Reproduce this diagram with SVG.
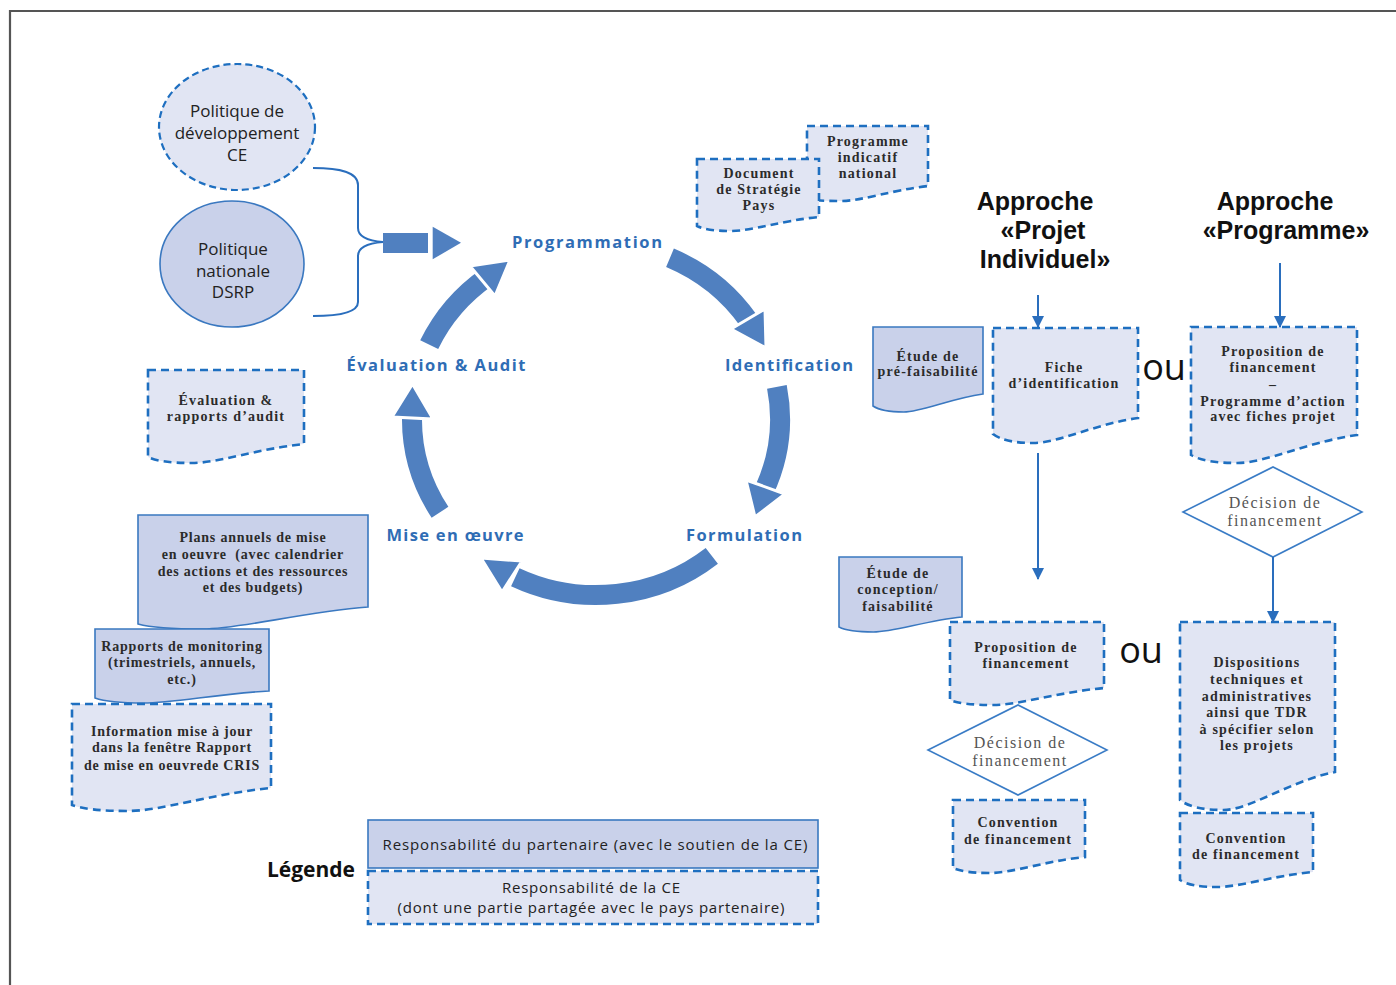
<svg xmlns="http://www.w3.org/2000/svg" width="1396" height="985" viewBox="0 0 1396 985">
<style>
.dash{fill:#e1e5f3;stroke:#1e6fc0;stroke-width:2.6;stroke-dasharray:8 5}
.solid{fill:#c9d1ea;stroke:#3a78c0;stroke-width:1.6}
.doc{font-family:"Liberation Serif",serif;font-weight:bold;font-size:14px;letter-spacing:1.2px;fill:#2b2b2b;text-anchor:middle}
.docl{font-family:"Liberation Serif",serif;font-weight:bold;font-size:14px;letter-spacing:0.8px;fill:#2b2b2b;text-anchor:middle}
.dia{fill:#fff;stroke:#3a7cc6;stroke-width:1.6}
.diat{font-family:"Liberation Serif",serif;font-size:16px;letter-spacing:1.5px;fill:#555;text-anchor:middle}
.cyc{font-family:"Open Sans",sans-serif;font-weight:bold;font-size:16.5px;fill:#2f6db5;text-anchor:middle}
.arc{fill:none;stroke:#5080c0;stroke-width:20}
.head{fill:#5080c0;stroke:#fff;stroke-width:3}
.sans{font-family:"Open Sans",sans-serif;fill:#222;text-anchor:middle}
.hd{font-family:"Liberation Sans",sans-serif;font-weight:bold;font-size:25px;fill:#111;text-anchor:middle}
.ou{font-family:"Open Sans",sans-serif;font-size:36px;fill:#111;text-anchor:middle}
.conn{stroke:#2a6ebd;stroke-width:2;fill:none}
</style>
<defs>
<marker id="ah" markerUnits="userSpaceOnUse" markerWidth="12" markerHeight="12" refX="11" refY="6" orient="auto">
<path d="M0,0 L12,6 L0,12 Z" fill="#2a6ebd"/>
</marker>
</defs>

<g id="frame" stroke="#555" stroke-width="2.2" fill="none">
<path d="M10,985 V11 H1396"/>
</g>

<g id="politique-ce">
<ellipse cx="237" cy="127" rx="78" ry="63" fill="#e1e5f3" stroke="#1e6fc0" stroke-width="2.2" stroke-dasharray="7 4"/>
<text class="sans" font-size="17" x="237" y="117">Politique de</text>
<text class="sans" font-size="17" x="237" y="139">développement</text>
<text class="sans" font-size="17" x="237" y="161">CE</text>
</g>

<g id="politique-nationale">
<ellipse cx="232" cy="264" rx="72" ry="63" fill="#c9d1ea" stroke="#3a78c0" stroke-width="1.6"/>
<text class="sans" font-size="17" x="233" y="255">Politique</text>
<text class="sans" font-size="17" x="233" y="277">nationale</text>
<text class="sans" font-size="17" x="233" y="298">DSRP</text>
</g>

<g id="cycle">
<path class="arc" d="M670,257.8 A184,176 0 0 1 748.5,320.6"/>
<polygon class="head" points="731,329 765,309 766,348"/>
<path class="arc" d="M776.9,386.9 A184,176 0 0 1 764.1,490.6"/>
<polygon class="head" points="746,480 785,494 755,517"/>
<path class="arc" d="M711.8,555.8 A184,176 0 0 1 515.3,577.2"/>
<polygon class="head" points="481,558 522,561 502,592"/>
<path class="arc" d="M440,512.3 A184,176 0 0 1 412.1,412.9"/>
<polygon class="head" points="392,417 433,419 412.5,384"/>
<path class="arc" d="M429.2,344.6 A184,176 0 0 1 487.8,276.6"/>
<polygon class="head" points="470,266 510,260 495,296"/>
<text class="cyc" x="587" y="248" textLength="150">Programmation</text>
<text class="cyc" x="789" y="371" textLength="128">Identification</text>
<text class="cyc" x="744" y="541" textLength="116">Formulation</text>
<text class="cyc" x="455" y="541" textLength="137">Mise en œuvre</text>
<text class="cyc" x="436" y="371" textLength="179">Évaluation &amp; Audit</text>
</g>

<g id="programme-indicatif">
<path class="dash" d="M807,126 H928 V186 C892,190 862,201 841,201 Q817,201 807,199 Z"/>
<text class="doc" x="868" y="146">Programme</text>
<text class="doc" x="868" y="162">indicatif</text>
<text class="doc" x="868" y="178">national</text>
</g>

<g id="document-strategie">
<path class="dash" d="M697,159 H819 V217 C782,220.5 752,231 731,231 Q707,231 697,226 Z"/>
<text class="doc" x="759" y="178">Document</text>
<text class="doc" x="759" y="194">de Stratégie</text>
<text class="doc" x="759" y="210">Pays</text>
</g>

<g id="evaluation-rapports">
<path class="dash" d="M148,370 H304 V444 C257,449 218,463 192,463 Q160,463 148,457 Z"/>
<text class="doc" x="226" y="405">Évaluation &amp;</text>
<text class="doc" x="226" y="421">rapports d’audit</text>
</g>

<g id="plans-annuels">
<path class="solid" d="M138,515 H368 V607 C299,612.5 241.5,629 202.4,629 Q156.4,629 138,624 Z"/>
<text class="docl" x="253" y="542">Plans annuels de mise</text>
<text class="docl" x="253" y="559" xml:space="preserve">en oeuvre  (avec calendrier</text>
<text class="docl" x="253" y="576">des actions et des ressources</text>
<text class="docl" x="253" y="592">et des budgets)</text>
</g>

<g id="rapports-monitoring">
<path class="solid" d="M95,629 H269 V691 C216.8,694 173.3,703 143.7,703 Q108.9,703 95,698 Z"/>
<text class="docl" x="182" y="651">Rapports de monitoring</text>
<text class="docl" x="182" y="667">(trimestriels, annuels,</text>
<text class="docl" x="182" y="684">etc.)</text>
</g>

<g id="information-cris">
<path class="dash" d="M72,704 H271 V788 C211.3,793.75 161.6,811 127.7,811 Q87.9,811 72,805 Z"/>
<text class="docl" x="172" y="736">Information mise à jour</text>
<text class="docl" x="172" y="752">dans la fenêtre Rapport</text>
<text class="docl" x="172" y="770">de mise en oeuvrede CRIS</text>
</g>

<g id="approche-projet">
<text class="hd" x="1035" y="210">Approche</text>
<text class="hd" x="1043" y="239">«Projet</text>
<text class="hd" x="1045" y="268">Individuel»</text>
</g>

<g id="approche-programme">
<text class="hd" x="1275" y="210">Approche</text>
<text class="hd" x="1286" y="239">«Programme»</text>
</g>

<g id="etude-prefaisabilite">
<path class="solid" d="M873,327 H983 V394 C950,398.5 922.5,412 903.8,412 Q881.8,412 873,406 Z"/>
<text class="doc" x="928" y="361">Étude de</text>
<text class="doc" x="928" y="376">pré-faisabilité</text>
</g>

<g id="fiche-identification">
<path class="dash" d="M993,328 H1138 V418 C1094.5,424.25 1058.25,443 1033.6,443 Q1004.6,443 993,434 Z"/>
<text class="doc" x="1064" y="372">Fiche</text>
<text class="doc" x="1064" y="388">d’identification</text>
</g>

<g id="ou-1">
<text class="ou" x="1164" y="380">ou</text>
</g>

<g id="proposition-programme">
<path class="dash" d="M1191,327 H1357 V435 C1307.2,442 1265.7,463 1237.5,463 Q1204.3,463 1191,455 Z"/>
<text class="doc" x="1273" y="356">Proposition de</text>
<text class="doc" x="1273" y="372">financement</text>
<text class="doc" x="1273" y="389">–</text>
<text class="doc" x="1273" y="406">Programme d’action</text>
<text class="doc" x="1273" y="421">avec fiches projet</text>
</g>

<g id="decision-programme">
<polygon class="dia" points="1183,512 1273,467 1362,512 1273,557"/>
<text class="diat" x="1275" y="508">Décision de</text>
<text class="diat" x="1275" y="526">financement</text>
</g>

<g id="etude-conception">
<path class="solid" d="M839,557 H962 V617 C925.1,620.75 894.35,632 873.4,632 Q848.8,632 839,627 Z"/>
<text class="doc" x="898" y="578">Étude de</text>
<text class="doc" x="898" y="594">conception/</text>
<text class="doc" x="898" y="611">faisabilité</text>
</g>

<g id="proposition-financement">
<path class="dash" d="M950,622 H1104 V688 C1057.8,692.25 1019.3,705 993.1,705 Q962.3,705 950,700 Z"/>
<text class="doc" x="1026" y="652">Proposition de</text>
<text class="doc" x="1026" y="668">financement</text>
</g>

<g id="ou-2">
<text class="ou" x="1141" y="663">ou</text>
</g>

<g id="decision-projet">
<polygon class="dia" points="928,750 1018,705 1107,750 1018,795"/>
<text class="diat" x="1020" y="748">Décision de</text>
<text class="diat" x="1020" y="766">financement</text>
</g>

<g id="convention-projet">
<path class="dash" d="M953,800 H1085 V857 C1045.4,861 1012.4,873 990,873 Q963.6,873 953,868 Z"/>
<text class="doc" x="1018" y="827">Convention</text>
<text class="doc" x="1018" y="844">de financement</text>
</g>

<g id="dispositions">
<path class="dash" d="M1180,622 H1335 V772 C1288.5,781.5 1249.75,810 1223.4,810 Q1192.4,810 1180,800 Z"/>
<text class="doc" x="1257" y="667">Dispositions</text>
<text class="doc" x="1257" y="684">techniques et</text>
<text class="doc" x="1257" y="701">administratives</text>
<text class="doc" x="1257" y="717">ainsi que TDR</text>
<text class="doc" x="1257" y="734">à spécifier selon</text>
<text class="doc" x="1257" y="750">les projets</text>
</g>

<g id="convention-programme">
<path class="dash" d="M1180,813 H1313 V872 C1273.1,875.75 1239.85,887 1217.2,887 Q1190.6,887 1180,880 Z"/>
<text class="doc" x="1246" y="843">Convention</text>
<text class="doc" x="1246" y="859">de financement</text>
</g>

<g id="legende">
<text font-family="Open Sans, sans-serif" font-weight="bold" font-size="21" fill="#111" x="311" y="877" text-anchor="middle">Légende</text>
<rect class="solid" x="368" y="820" width="450" height="48"/>
<text class="sans" font-size="15" x="595" y="850" textLength="425">Responsabilité du partenaire (avec le soutien de la CE)</text>
<rect class="dash" x="368" y="871" width="450" height="53"/>
<text class="sans" font-size="15" x="591" y="893" textLength="178">Responsabilité de la CE</text>
<text class="sans" font-size="15" x="591" y="913" textLength="387">(dont une partie partagée avec le pays partenaire)</text>
</g>

<g id="connectors">
<path class="conn" d="M313,168 C340,168 358,172 358,185 L358,228 C358,238 370,241 383,242 C370,243 358,246 358,256 L358,302 C358,312 340,316 313,316"/>
<rect x="383" y="233" width="45" height="20" fill="#5080c0"/>
<polygon points="432.7,226.7 461,242.7 432.7,259.3" fill="#5080c0"/>
<line class="conn" x1="1038" y1="295" x2="1038" y2="327" marker-end="url(#ah)"/>
<line class="conn" x1="1280" y1="263" x2="1280" y2="327" marker-end="url(#ah)"/>
<line class="conn" x1="1038" y1="453" x2="1038" y2="579" marker-end="url(#ah)"/>
<line class="conn" x1="1273" y1="557" x2="1273" y2="622" marker-end="url(#ah)"/>
</g>
</svg>
